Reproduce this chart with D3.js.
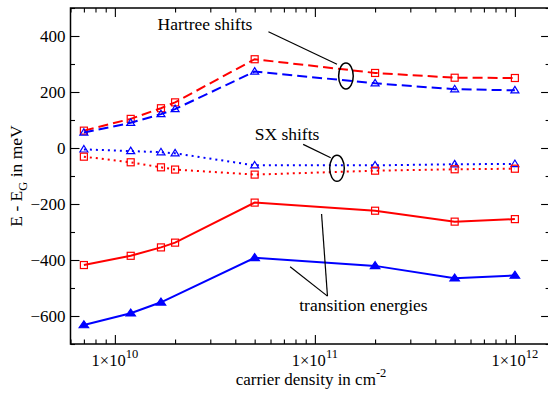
<!DOCTYPE html>
<html><head><meta charset="utf-8">
<script src="https://cdn.jsdelivr.net/npm/d3@7"></script>
<style>body{margin:0;background:#fff}svg{display:block}text{font-family:"Liberation Serif","Times New Roman",serif;fill:#000}</style>
</head><body><div id="chart"></div>
<script>
// ---- data ----
const density = [7e9, 1.2e10, 1.7e10, 2e10, 5e10, 2e11, 5e11, 1e12];
const hartreeRed = [62, 104, 142, 163, 317, 268, 251, 250];
const hartreeBlue = [55, 90, 121, 139, 273, 231, 210, 206];
const sxBlue = [-5, -11, -15, -19, -62, -62, -58, -57];
const sxRed = [-31, -51, -69, -77, -95, -81, -76, -74];
const transRed = [-418, -385, -355, -338, -195, -224, -263, -254];
const densityTransBlue = [7e9, 1.2e10, 1.7e10, 5e10, 2e11, 5e11, 1e12];
const transBlue = [-632, -590, -551, -392, -421, -465, -455];
const yTicks = [-600, -400, -200, 0, 200, 400];
const xTicks = [1e10, 1e11, 1e12];
const xTickExp = ["10", "11", "12"];

const W = 548, H = 394;
const svg = d3.select("#chart").append("svg").attr("width", W).attr("height", H);
const x = d3.scaleLog().domain([6e9, 1.5e12]).range([70.5, 550.1]);
const y = d3.scaleLinear().domain([-700, 500]).range([344, 8]);
const RED = "#ff0000", BLUE = "#0000ff";

// minor ticks
const xMinor = [];
for (let e = 9; e <= 12; e++) for (let m = 1; m <= 9; m++) { const v = m * Math.pow(10, e); if (v >= 6e9 && v <= 1.5e12 && m !== 1) xMinor.push(v); }
const yMinor = d3.range(-700, 501, 100).filter(v => v % 200 !== 0);

function styleAxis(g) { g.select(".domain").remove(); g.selectAll("line").attr("stroke", "#000").attr("stroke-width", 1.1); }
// left
svg.append("g").attr("transform", "translate(70.5,0)")
  .call(d3.axisLeft(y).tickValues(yTicks).tickSize(-9).tickPadding(5).tickFormat(d3.format("d")))
  .call(styleAxis).call(g => g.selectAll("text").attr("font-size", 17).attr("font-family", "Liberation Serif"));
svg.append("g").attr("transform", "translate(70.5,0)")
  .call(d3.axisLeft(y).tickValues(yMinor).tickSize(-4.5).tickFormat("")).call(styleAxis);
// right
svg.append("g").attr("transform", "translate(550.1,0)")
  .call(d3.axisRight(y).tickValues(yTicks).tickSize(-9).tickFormat("")).call(styleAxis);
svg.append("g").attr("transform", "translate(550.1,0)")
  .call(d3.axisRight(y).tickValues(yMinor).tickSize(-4.5).tickFormat("")).call(styleAxis);
// bottom
svg.append("g").attr("transform", "translate(0,344)")
  .call(d3.axisBottom(x).tickValues(xTicks).tickSize(-9).tickFormat("")).call(styleAxis);
svg.append("g").attr("transform", "translate(0,344)")
  .call(d3.axisBottom(x).tickValues(xMinor).tickSize(-4.5).tickFormat("")).call(styleAxis);
// top
svg.append("g").attr("transform", "translate(0,8)")
  .call(d3.axisTop(x).tickValues(xTicks).tickSize(-9).tickFormat("")).call(styleAxis);
svg.append("g").attr("transform", "translate(0,8)")
  .call(d3.axisTop(x).tickValues(xMinor).tickSize(-4.5).tickFormat("")).call(styleAxis);
// frame
svg.append("rect").attr("x", 70.5).attr("y", 8).attr("width", 550.1 - 70.5).attr("height", 336)
  .attr("fill", "none").attr("stroke", "#000").attr("stroke-width", 1.5);

// x tick labels with superscripts
xTicks.forEach((v, i) => {
  const t = svg.append("text").attr("x", x(v)).attr("y", 366).attr("text-anchor", "middle").attr("font-size", 16.5);
  t.append("tspan").text("1×10");
  t.append("tspan").attr("dy", -8).attr("font-size", 12.5).text(xTickExp[i]);
});

// axis titles
const xt = svg.append("text").attr("x", 311).attr("y", 385).attr("text-anchor", "middle").attr("font-size", 17);
xt.append("tspan").text("carrier density in cm");
xt.append("tspan").attr("dy", -8).attr("font-size", 12.5).text("-2");
const yt = svg.append("text").attr("transform", "translate(21.5,176) rotate(-90)").attr("text-anchor", "middle").attr("font-size", 17.5);
yt.append("tspan").text("E - E");
yt.append("tspan").attr("dy", 5).attr("font-size", 12.5).text("G");
yt.append("tspan").attr("dy", -5).text(" in meV");

// series
const line = d3.line().x(d => x(d[0])).y(d => y(d[1]));
function series(xs, ys, color, dash, marker) {
  const pts = xs.map((v, i) => [v, ys[i]]);
  svg.append("path").datum(pts).attr("d", line).attr("fill", "none").attr("stroke", color)
    .attr("stroke-width", 2).attr("stroke-dasharray", dash);
  const g = svg.append("g");
  pts.forEach(p => {
    const cx = x(p[0]), cy = y(p[1]);
    if (marker === "square") {
      g.append("rect").attr("x", cx - 3.5).attr("y", cy - 3.5).attr("width", 7).attr("height", 7)
        .attr("fill", "none").attr("stroke", color).attr("stroke-width", 1.2);
    } else {
      const filled = marker === "triFilled";
      const w = filled ? 9.5 : 8, h = filled ? 7 : 6.5;
      g.append("path").attr("d", `M${cx},${cy - h * 0.6}L${cx + w / 2},${cy + h * 0.4}L${cx - w / 2},${cy + h * 0.4}Z`)
        .attr("fill", filled ? color : "none").attr("stroke", color).attr("stroke-width", 1.2);
    }
  });
}
series(density, hartreeRed, RED, "10,5", "square");
series(density, hartreeBlue, BLUE, "10,5", "tri");
series(density, sxBlue, BLUE, "2,4", "tri");
series(density, sxRed, RED, "2,4", "square");
series(density, transRed, RED, null, "square");
series(densityTransBlue, transBlue, BLUE, null, "triFilled");

// annotations (in data coordinates)
function ann(x1, y1, x2, y2) {
  svg.append("line").attr("x1", x(x1)).attr("y1", y(y1)).attr("x2", x(x2)).attr("y2", y(y2))
    .attr("stroke", "#000").attr("stroke-width", 1.2);
}
function ell(cx, cy) {
  svg.append("ellipse").attr("cx", x(cx)).attr("cy", y(cy)).attr("rx", 7.3).attr("ry", 13)
    .attr("fill", "none").attr("stroke", "#000").attr("stroke-width", 1.5);
}
svg.append("text").attr("x", x(1.635e10)).attr("y", y(421)).attr("font-size", 17.5).text("Hartree shifts");
ann(5.86e10, 415, 1.29e11, 299);
ell(1.43e11, 257);
svg.append("text").attr("x", x(5.0e10)).attr("y", y(29)).attr("font-size", 17.5).text("SX shifts");
ann(8.74e10, 13, 1.2e11, -35);
ell(1.29e11, -72.5);
svg.append("text").attr("x", x(8.35e10)).attr("y", y(-582)).attr("font-size", 17.5).text("transition energies");
ann(1.08e11, -236, 1.156e11, -529);
ann(7.52e10, -424, 1.156e11, -529);
</script></body></html>
